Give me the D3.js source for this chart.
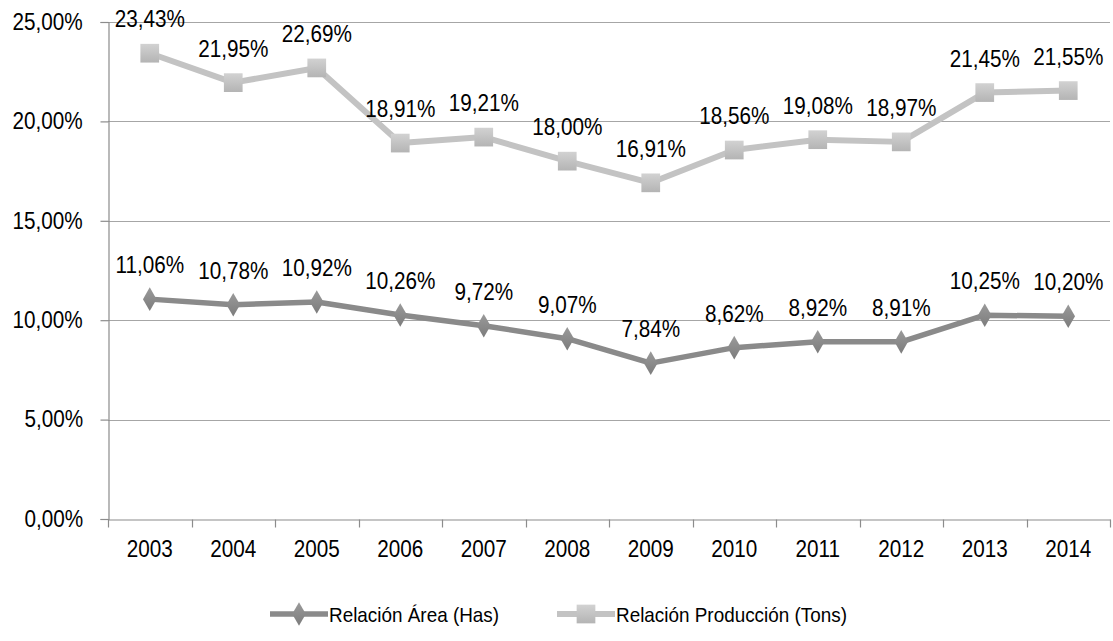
<!DOCTYPE html>
<html>
<head>
<meta charset="utf-8">
<script src="https://cdn.jsdelivr.net/npm/d3@7"></script>
<style>
  body { margin: 0; background: #fff; }
  text { font-family: "Liberation Sans", Arial, sans-serif; fill: #000; }
  /* the original type is a bit taller and narrower than Arial */
  .nar { font-size: 23px; transform: scaleX(0.9); transform-box: fill-box; transform-origin: center; }
</style>
</head>
<body>
<div id="chart"></div>
<script>
/**
 * CONSTANTS AND GLOBALS
 * */
const width = 1113,
  height = 641,
  margin = { top: 22, bottom: 122, left: 108, right: 3 };

// data
const years = ["2003", "2004", "2005", "2006", "2007", "2008", "2009", "2010", "2011", "2012", "2013", "2014"];
const areaValues = [11.06, 10.78, 10.92, 10.26, 9.72, 9.07, 7.84, 8.62, 8.92, 8.91, 10.25, 10.20];
const prodValues = [23.43, 21.95, 22.69, 18.91, 19.21, 18.00, 16.91, 18.56, 19.08, 18.97, 21.45, 21.55];
const yTicks = [0, 5, 10, 15, 20, 25];
const seriesNames = ["Relación Área (Has)", "Relación Producción (Tons)"];

const fmt = v => v.toFixed(2).replace(".", ",") + "%";

const svg = d3.select("#chart")
  .append("svg")
  .attr("width", width)
  .attr("height", height);

// gradients for the markers
const defs = svg.append("defs");
function grad(id, top, bottom) {
  const g = defs.append("linearGradient").attr("id", id)
    .attr("x1", 0).attr("y1", 0).attr("x2", 0).attr("y2", 1);
  g.append("stop").attr("offset", "0%").attr("stop-color", top);
  g.append("stop").attr("offset", "100%").attr("stop-color", bottom);
}
grad("gProd", "#d2d2d2", "#b4b4b4");
grad("gArea", "#9a9a9a", "#7c7c7c");

const x = d3.scaleBand()
  .domain(years)
  .range([margin.left, width - margin.right]);

const y = d3.scaleLinear()
  .domain([0, 25])
  .range([height - margin.bottom, margin.top]);

// gridlines
svg.append("g")
  .selectAll("line")
  .data(yTicks.filter(d => d > 0))
  .join("line")
  .attr("x1", margin.left)
  .attr("x2", width - margin.right)
  .attr("y1", d => Math.round(y(d)) + 0.5)
  .attr("y2", d => Math.round(y(d)) + 0.5)
  .attr("stroke", "#a6a6a6")
  .attr("stroke-width", 1.2);

// y axis
const yAxis = svg.append("g")
  .attr("transform", `translate(${margin.left + 0.5},0)`)
  .call(d3.axisLeft(y).tickValues(yTicks).tickFormat(fmt).tickSize(8).tickPadding(14));
yAxis.select(".domain").attr("stroke", "#8c8c8c").attr("stroke-width", 1.2);
yAxis.selectAll(".tick line").attr("stroke", "#8c8c8c").attr("stroke-width", 1.2);
yAxis.selectAll("text").attr("class", "nar").attr("font-size", null).attr("font-family", null);

// x axis
const xAxis = svg.append("g")
  .attr("transform", `translate(0,${Math.round(y(0)) + 0.5})`)
  .call(d3.axisBottom(x).tickSize(0).tickPadding(21));
xAxis.select(".domain").attr("stroke", "#8c8c8c").attr("stroke-width", 1.2);
xAxis.selectAll("text").attr("class", "nar").attr("font-size", null).attr("font-family", null);
// tick marks at category boundaries
xAxis.append("g")
  .selectAll("line")
  .data(years.concat(["end"]))
  .join("line")
  .attr("x1", (d, i) => Math.round(margin.left + i * x.step()) + 0.5)
  .attr("x2", (d, i) => Math.round(margin.left + i * x.step()) + 0.5)
  .attr("y1", 0)
  .attr("y2", 8)
  .attr("stroke", "#8c8c8c")
  .attr("stroke-width", 1.2);

const cx = d => x(d) + x.bandwidth() / 2;

const line = d3.line()
  .x((d, i) => cx(years[i]))
  .y(d => y(d));

const series = [
  { name: seriesNames[0], values: areaValues, color: "#8a8a8a", fill: "url(#gArea)", symbol: d3.symbolDiamond, size: 160, width: 5.5 },
  { name: seriesNames[1], values: prodValues, color: "#c3c3c3", fill: "url(#gProd)", symbol: d3.symbolSquare, size: 350, width: 6 },
];

series.forEach(s => {
  svg.append("path")
    .datum(s.values)
    .attr("d", line)
    .attr("fill", "none")
    .attr("stroke", s.color)
    .attr("stroke-width", s.width)
    .attr("stroke-linejoin", "round");

  svg.append("g")
    .selectAll("path")
    .data(s.values)
    .join("path")
    .attr("transform", (d, i) => `translate(${cx(years[i])},${y(d)})`)
    .attr("d", d3.symbol().type(s.symbol).size(s.size))
    .attr("fill", s.fill);

  svg.append("g")
    .selectAll("text")
    .data(s.values)
    .join("text")
    .attr("class", "nar")
    .attr("x", (d, i) => cx(years[i]))
    .attr("y", d => y(d) - 26)
    .attr("text-anchor", "middle")
    .text(fmt);
});

// legend
const legendY = 614;
const legendItems = [
  { s: series[0], x0: 270 },
  { s: series[1], x0: 557 },
];
legendItems.forEach(({ s, x0 }) => {
  svg.append("line")
    .attr("x1", x0).attr("x2", x0 + 58)
    .attr("y1", legendY).attr("y2", legendY)
    .attr("stroke", s.color)
    .attr("stroke-width", s.width);
  svg.append("path")
    .attr("transform", `translate(${x0 + 29},${legendY})`)
    .attr("d", d3.symbol().type(s.symbol).size(s.size))
    .attr("fill", s.fill);
  svg.append("text")
    .attr("transform", `translate(${x0 + 59},${legendY + 8}) scale(0.9,1)`)
    .style("font-size", "21px")
    .text(s.name);
});
</script>
</body>
</html>
